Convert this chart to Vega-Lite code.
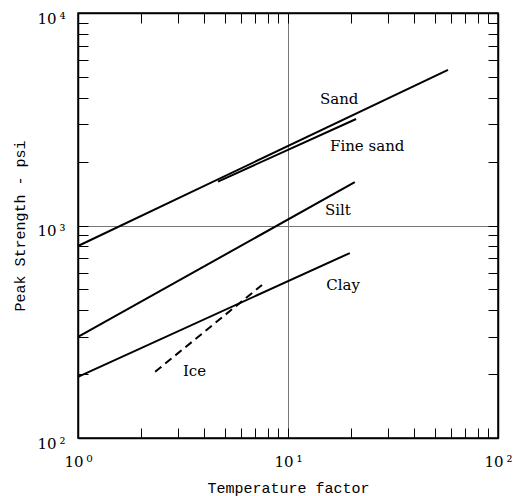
{
  "$schema": "https://vega.github.io/schema/vega-lite/v6.json",
  "width": 420,
  "height": 425,
  "autosize": {"type": "none"},
  "padding": {"left": 78, "top": 13, "right": 24, "bottom": 58},
  "background": "white",
  "config": {"view": {"stroke": "black", "strokeWidth": 1.5}},
  "datasets": {
    "lines": [
      {"series": "Sand", "t": 1, "p": 801},
      {"series": "Sand", "t": 57.8, "p": 5400},
      {"series": "Fine sand", "t": 4.64, "p": 1610},
      {"series": "Fine sand", "t": 21.1, "p": 3170},
      {"series": "Silt", "t": 1, "p": 299},
      {"series": "Silt", "t": 20.8, "p": 1600},
      {"series": "Clay", "t": 1, "p": 194},
      {"series": "Clay", "t": 19.7, "p": 742},
      {"series": "Ice", "t": 2.33, "p": 205},
      {"series": "Ice", "t": 7.52, "p": 525}
    ],
    "labels": [
      {"label": "Sand", "t": 14.2, "p": 3937},
      {"label": "Fine sand", "t": 15.85, "p": 2366},
      {"label": "Silt", "t": 15.0, "p": 1183},
      {"label": "Clay", "t": 15.2, "p": 525},
      {"label": "Ice", "t": 3.16, "p": 207}
    ]
  },
  "layer": [
    {
      "data": {"name": "lines"},
      "transform": [{"filter": "datum.series != 'Ice'"}],
      "mark": {"type": "line", "color": "black", "strokeWidth": 2},
      "encoding": {
        "detail": {"field": "series"},
        "x": {
          "field": "t", "type": "quantitative",
          "scale": {"type": "log", "domain": [1, 100]},
          "axis": {
            "orient": "bottom",
            "values": [1,2,3,4,5,6,7,8,9,10,20,30,40,50,60,70,80,90,100],
            "tickSize": -10, "tickColor": "black", "tickWidth": 1,
            "domainColor": "black", "domainWidth": 1.5,
            "grid": false,
            "labelExpr": "datum.value==1?'10\u2009⁰':datum.value==10?'10\u2009¹':datum.value==100?'10\u2009²':''",
            "labelFont": "DejaVu Serif", "labelFontSize": 15, "labelColor": "black",
            "labelFlush": false, "labelOverlap": false, "labelPadding": 26,
            "title": "Temperature factor",
            "titleFont": "Liberation Mono", "titleFontSize": 15, "titleFontWeight": "normal",
            "titleColor": "black", "titlePadding": 11
          }
        },
        "y": {
          "field": "p", "type": "quantitative",
          "scale": {"type": "log", "domain": [100, 10000]},
          "axis": {
            "orient": "left",
            "values": [100,200,300,400,500,600,700,800,900,1000,2000,3000,4000,5000,6000,7000,8000,9000,10000],
            "tickSize": -10, "tickColor": "black", "tickWidth": 1,
            "domainColor": "black", "domainWidth": 1.5,
            "grid": false,
            "labelExpr": "datum.value==100?'10\u2009²':datum.value==1000?'10\u2009³':datum.value==10000?'10\u2009⁴':''",
            "labelFont": "DejaVu Serif", "labelFontSize": 15, "labelColor": "black",
            "labelFlush": false, "labelOverlap": false, "labelPadding": 23, "labelOffset": 5,
            "title": "Peak Strength - psi",
            "titleFont": "Liberation Mono", "titleFontSize": 15, "titleFontWeight": "normal",
            "titleColor": "black", "titlePadding": 9
          }
        }
      }
    },
    {
      "data": {"name": "lines"},
      "transform": [{"filter": "datum.series == 'Ice'"}],
      "mark": {"type": "line", "color": "black", "strokeWidth": 2, "strokeDash": [8, 5]},
      "encoding": {
        "x": {
          "field": "t", "type": "quantitative",
          "axis": {"orient": "bottom", "values": [10], "grid": true, "gridColor": "#777", "gridWidth": 1,
                   "ticks": false, "labels": false, "domain": false, "title": null}
        },
        "y": {
          "field": "p", "type": "quantitative",
          "axis": {"orient": "left", "values": [1000], "grid": true, "gridColor": "#777", "gridWidth": 1,
                   "ticks": false, "labels": false, "domain": false, "title": null}
        }
      }
    },
    {
      "data": {"name": "labels"},
      "mark": {"type": "text", "align": "left", "baseline": "middle", "font": "DejaVu Serif", "fontSize": 15, "color": "black"},
      "encoding": {
        "text": {"field": "label"},
        "x": {
          "field": "t", "type": "quantitative",
          "axis": {"orient": "top", "values": [1,2,3,4,5,6,7,8,9,10,20,30,40,50,60,70,80,90,100],
                   "tickSize": -10, "tickColor": "black", "tickWidth": 1,
                   "domainColor": "black", "domainWidth": 1.5, "labels": false, "grid": false, "title": null}
        },
        "y": {
          "field": "p", "type": "quantitative",
          "axis": {"orient": "right", "values": [100,200,300,400,500,600,700,800,900,1000,2000,3000,4000,5000,6000,7000,8000,9000,10000],
                   "tickSize": -10, "tickColor": "black", "tickWidth": 1,
                   "domainColor": "black", "domainWidth": 1.5, "labels": false, "grid": false, "title": null}
        }
      }
    }
  ],
  "resolve": {"axis": {"x": "independent", "y": "independent"}}
}
